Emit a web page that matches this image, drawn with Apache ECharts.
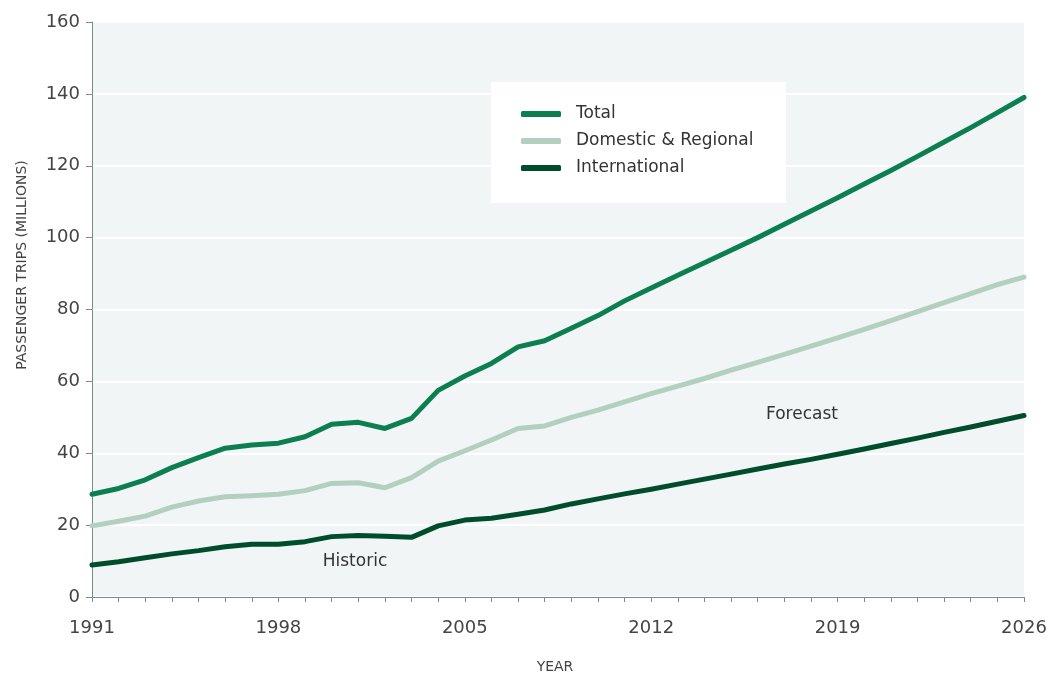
<!DOCTYPE html>
<html>
<head>
<meta charset="utf-8">
<script src="https://cdn.jsdelivr.net/npm/echarts@6/dist/echarts.min.js"></script>
<style>
html,body{margin:0;padding:0;background:#fff;}
#chart{width:1053px;height:678px;}
</style>
</head>
<body>
<div id="chart"></div>
<script>
var years = ['1991','1992','1993','1994','1995','1996','1997','1998','1999','2000','2001','2002','2003','2004','2005','2006','2007','2008','2009','2010','2011','2012','2013','2014','2015','2016','2017','2018','2019','2020','2021','2022','2023','2024','2025','2026'];
var total = [28.6,30.2,32.6,36.0,38.8,41.4,42.3,42.8,44.6,48.1,48.6,46.9,49.7,57.5,61.5,65.0,69.6,71.3,74.8,78.3,82.4,86.0,89.5,93.0,96.5,100.0,103.7,107.4,111.1,114.9,118.7,122.6,126.6,130.6,134.8,139.0];
var domestic = [19.8,21.1,22.5,25.0,26.7,27.9,28.2,28.6,29.6,31.6,31.8,30.4,33.2,37.8,40.7,43.7,46.9,47.6,50.0,52.0,54.3,56.6,58.7,60.8,63.1,65.3,67.5,69.8,72.1,74.5,76.9,79.4,81.9,84.4,86.9,89.0];
var international = [8.9,9.8,10.9,12.0,12.9,14.0,14.7,14.7,15.4,16.8,17.1,16.9,16.6,19.8,21.4,21.9,23.0,24.2,25.9,27.3,28.7,30.0,31.4,32.8,34.2,35.6,37.0,38.3,39.7,41.2,42.7,44.2,45.8,47.3,48.9,50.5];
var seriesNames = ['Total','Domestic & Regional','International'];
var yTicks = [0,20,40,60,80,100,120,140,160];

var FONT = 'DejaVu Sans';
var chart = echarts.init(document.getElementById('chart'), null, {renderer:'canvas'});
function mkLine(name, data, color){
  return {
    name:name, type:'line', data:data, symbol:'none', smooth:false,
    lineStyle:{color:color, width:5, cap:'round', join:'round'},
    itemStyle:{color:color}, z:3
  };
}
chart.setOption({
  animation:false,
  backgroundColor:'#ffffff',
  grid:{left:92, right:29, top:22, bottom:81, show:true, backgroundColor:'#f1f5f6', borderWidth:0},
  xAxis:{
    type:'category', data:years, boundaryGap:false,
    axisLine:{show:true, lineStyle:{color:'#7d8a90', width:1}},
    axisTick:{show:true, interval:0, length:5, lineStyle:{color:'#7d8a90'}},
    axisLabel:{interval:6, margin:22, fontSize:18, color:'#444', fontFamily:FONT},
    splitLine:{show:false}
  },
  yAxis:{
    type:'value', min:yTicks[0], max:yTicks[yTicks.length-1], interval:20,
    axisLine:{show:true, lineStyle:{color:'#7d8a90', width:1}},
    axisTick:{show:true, length:6, lineStyle:{color:'#7d8a90'}},
    axisLabel:{margin:12, fontSize:18, color:'#444', fontFamily:FONT},
    splitLine:{show:true, lineStyle:{color:'#ffffff', width:2}}
  },
  legend:{
    orient:'vertical', left:516, top:99, itemGap:7,
    itemWidth:40, itemHeight:6, icon:'roundRect',
    data:seriesNames, z:10,
    textStyle:{fontSize:17, color:'#333', fontFamily:FONT, lineHeight:20, padding:[0,0,0,10]}
  },
  graphic:[
    {type:'rect', left:491, top:82, shape:{width:295, height:121}, style:{fill:'#ffffff'}, z:1},
    {type:'text', x:22, y:265, rotation:Math.PI/2, z:5,
      style:{text:'PASSENGER TRIPS (MILLIONS)', fill:'#444', font:'14px "DejaVu Sans"', align:'center', verticalAlign:'middle'}},
    {type:'text', x:555, y:667, z:5,
      style:{text:'YEAR', fill:'#444', font:'14px "DejaVu Sans"', align:'center', verticalAlign:'middle'}},
    {type:'text', x:355, y:562, z:5,
      style:{text:'Historic', fill:'#333', font:'17px "DejaVu Sans"', align:'center', verticalAlign:'middle'}},
    {type:'text', x:802, y:415, z:5,
      style:{text:'Forecast', fill:'#333', font:'17px "DejaVu Sans"', align:'center', verticalAlign:'middle'}}
  ],
  series:[
    mkLine(seriesNames[0], total, '#0b7f50'),
    mkLine(seriesNames[1], domestic, '#b3cfbf'),
    mkLine(seriesNames[2], international, '#004d2b')
  ]
});
</script>
</body>
</html>
